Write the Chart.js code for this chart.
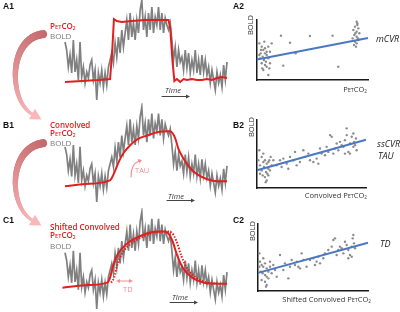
<!DOCTYPE html>
<html>
<head>
<meta charset="utf-8">
<script src="https://cdn.jsdelivr.net/npm/chart.js@4"></script>
<style>
body{margin:0;background:#fff;width:400px;height:312px;overflow:hidden;position:relative;font-family:"Open Sans",sans-serif}
canvas{position:absolute}
.t{position:absolute;white-space:nowrap;line-height:1;font-size:8px}
.lab{font-family:"Liberation Sans",Arial,sans-serif;font-weight:bold;font-size:8.5px;color:#111}
.red{color:#e0201f;font-weight:600}
.grey{color:#7a7a7a}
.ax{color:#333;font-size:7.5px}
.it{font-style:italic;color:#222;font-size:9px}
.tm{font-style:italic;color:#333;font-size:7.5px}
.pk{color:#f28f96;font-size:7.5px}
.s{font-size:0.72em}
sub{font-size:0.62em;vertical-align:-0.25em;line-height:0}
.rot{transform:translate(-50%,-50%) rotate(-90deg)}
</style>
</head>
<body>
<canvas id="deco" width="400" height="312" style="left:0;top:0"></canvas>
<canvas id="tsA" width="170" height="108" style="left:61px;top:-4px"></canvas>
<canvas id="tsB" width="170" height="103" style="left:61px;top:103px"></canvas>
<canvas id="tsC" width="170" height="105" style="left:61px;top:208px"></canvas>
<canvas id="scA" width="119" height="68" style="left:253px;top:16px"></canvas>
<canvas id="scB" width="117" height="76" style="left:253px;top:116px"></canvas>
<canvas id="scC" width="118" height="75" style="left:254px;top:220px"></canvas>

<div class="t lab" style="left:3px;top:2px">A1</div>
<div class="t lab" style="left:3px;top:120.5px">B1</div>
<div class="t lab" style="left:3px;top:215.5px">C1</div>
<div class="t lab" style="left:233px;top:2px">A2</div>
<div class="t lab" style="left:233px;top:120.5px">B2</div>
<div class="t lab" style="left:233px;top:215.5px">C2</div>

<div class="t red" style="left:50px;top:22px">P<span class="s">ET</span>CO<sub>2</sub></div>
<div class="t grey" style="left:50px;top:31.5px">BOLD</div>
<div class="t red" style="left:50px;top:120.5px">Convolved</div>
<div class="t red" style="left:50px;top:128.5px">P<span class="s">ET</span>CO<sub>2</sub></div>
<div class="t grey" style="left:50px;top:138.5px">BOLD</div>
<div class="t red" style="left:50px;top:223px">Shifted Convolved</div>
<div class="t red" style="left:50px;top:231px">P<span class="s">ET</span>CO<sub>2</sub></div>
<div class="t grey" style="left:50px;top:241.5px">BOLD</div>

<div class="t tm" style="left:165px;top:87px">Time</div>
<div class="t tm" style="left:168px;top:192.5px">Time</div>
<div class="t tm" style="left:172px;top:294px">Time</div>
<div class="t pk" style="left:135px;top:167px">TAU</div>
<div class="t pk" style="left:123px;top:286px">TD</div>

<div class="t ax rot" style="left:251px;top:25px">BOLD</div>
<div class="t ax rot" style="left:252px;top:127px">BOLD</div>
<div class="t ax rot" style="left:253px;top:231px">BOLD</div>
<div class="t ax" style="right:33px;top:86px">P<span class="s">ET</span>CO<sub>2</sub></div>
<div class="t ax" style="right:33px;top:192px">Convolved P<span class="s">ET</span>CO<sub>2</sub></div>
<div class="t ax" style="right:29px;top:296px">Shifted Convolved P<span class="s">ET</span>CO<sub>2</sub></div>

<div class="t it" style="left:376px;top:34px">mCVR</div>
<div class="t it" style="left:377px;top:139px">ssCVR</div>
<div class="t it" style="left:378px;top:151px">TAU</div>
<div class="t it" style="left:380px;top:239px">TD</div>

<script>
// BOLD signal, one sample per time step (same trace in all three rows)
const boldValues = [
  58,50,33,45,27,60,28,40,20,58,
  23,33,17,28,22,35,40,20,30,0,
  27,17,30,13,27,15,33,40,47,37,
  57,43,63,47,70,53,67,80,60,87,
  63,77,60,80,67,90,100,70,83,63,
  87,70,93,67,83,75,93,70,87,67,
  82,75,70,77,60,40,53,33,50,38,
  43,30,50,32,47,27,40,30,50,27,
  40,25,45,28,40,25,33,17,30,20,
  10,28,17,25,13,35,20,38
]

// PetCO2 block (row A)
const petTime = [0,10,20,27,28.3,29.3,31,34,40,48,55,62,63,64.3,65.5,67,69,71,73,76,79,82,85,88,91,94,97]
const petVals = [18,19,20,21,50,81,79,78,79,80,80,80,72,40,19,21,18,21,20,21,20,20,21,20,22,23,22]

// convolved PetCO2 (row B)
const convTime = [0,12,27,28.8,31.8,34.8,39,43.2,49.2,55.2,61.2,63,66,67.8,70.8,75,79.2,85.2,91.2,97]
const convVals = [16.5,19,22.8,28,40.7,51,59.7,66,70,73.4,74.4,74.4,67,56.5,46,35.5,29,24,21.8,21.8]

// shifted convolved (solid) and unshifted (dotted), row C
const shiftTime = [-1.5,12,25.2,27,28.8,31.8,37.2,43.2,51,58.8,61.2,64.2,67.2,70.8,76.2,82.8,88,97]
const shiftVals = [22,24.5,27.2,32.4,44.8,57.2,67.5,73.7,78.9,79.9,79,70.6,55.1,41.7,32.4,27.2,26.2,26]
const dotTime = [27.6,29.4,31.2,34.2,39.6,45.6,53.4,61.2,63.6,66.6,69.6,73.2,78.6,85.2,91]
const dotVals = [27.2,32.4,44.8,57.2,67.5,73.7,78.9,79.9,79,70.6,55.1,41.7,32.4,27.2,26.2]

// scatter A2: PetCO2 vs BOLD
const a2X = [2.1,4.2,5.7,7.2,3.3,5.1,8.7,6.3,10.2,4.2,7.2,8.7,5.7,11.7,10.2,2.7,8.1,3.6,11.7,6.6,13.2,10.2,4.8,8.7,2.1,11.1,7.2,
  21.6,29.7,47.7,68.1,34.8,23.7,73.2,
  89.8,90.4,88.3,91.3,86.8,89.8,92.2,87.7,89.8,86.2,91.3,88.3,89.8,87.4,89.2,90.4,88.6,91]
const a2Y = [61.1,55.6,50,52.8,44.4,38.9,41.7,33.3,36.1,27.8,25,22.2,16.7,27.8,8.3,36.1,30.6,50,47.2,63.9,61.1,55.6,19.4,47.2,41.7,19.4,44.4,
  73.9,62.2,73.3,73.9,44.4,23.9,22.2,
  97,94.4,88.9,86.1,83.3,80.6,77.8,75,72.2,69.4,66.7,63.9,61.1,58.3,55.6,91.7,77.8,69.4]
const a2FitX = [0,100]
const a2FitY = [34,70]

// scatter B2: convolved PetCO2 vs BOLD
const b2X = [2.1,1.2,2.8,4.3,5.8,7.3,8.9,10.4,6.4,8.3,9.5,5.2,7.3,8.9,10.4,11.9,4.3,2.8,11.3,13.5,15,12.5,5.8,10.4,8,
  18,21.1,22.6,24.2,27.2,28.7,30.3,33.3,34.9,36.4,39.4,42.5,44,47.1,48.6,51.7,54.7,56.3,57.8,59.3,62.4,63.9,65.4,67,68.5,
  70,71.6,73.1,74.6,76.1,77.7,79.2,80.7,82.3,83.8,85.3,86.9,88.4,89,89.9,90.8,91.4,85.3,82.3,88.4,80.7]
const b2Y = [55.6,40.7,33.3,45.7,38.3,40.7,35.8,38.3,30.9,23.5,21,18.5,16,11.1,18.5,25.9,25.9,21,40.7,33.3,40.7,45.7,50.6,28.4,8.6,
  33.3,40.7,30.9,43.2,35.8,28.4,45.7,40.7,53.1,33.3,38.3,55.6,45.7,50.6,40.7,38.3,43.2,35.8,58,50.6,48.1,60.5,53.1,77.8,75.3,
  50.6,58,65.4,55.6,67.9,63,60.5,70.4,87.7,53.1,65.4,75.3,80.2,67.9,63,72.8,55.6,50.6,77.8,60.5,50.6]
const b2FitX = [0,100]
const b2FitY = [26,71]

// scatter C2: shifted convolved PetCO2 vs BOLD
const c2X = [1.2,1.8,3.3,4.8,6.4,7.9,2.4,4.2,6.4,7.9,9.4,10.9,3.3,6.4,7.9,9.4,12.4,13.9,15.5,17,1.2,4.8,10.9,7.3,
  20,23,24.5,27.6,29.1,30.6,33.6,35.2,36.7,38.2,39.7,41.2,44.2,47.3,50.3,51.8,53.3,54.8,56.4,59.4,60.9,63.9,67,68.5,70,
  71.5,73,74.5,76.1,77.6,79.1,80.6,82.1,83.6,85.2,86.1,86.7,87.3,88.2,82.1,85.2]
const c2Y = [56.2,43.8,38.8,36.3,41.3,33.8,28.9,26.4,23.9,21.4,28.9,36.3,16.4,13.9,9,18.9,26.4,38.8,31.3,21.4,36.3,48.8,43.8,6.5,
  53.7,31.3,41.3,18.9,36.3,46.3,38.8,43.8,36.3,33.8,56.2,46.3,36.3,46.3,48.8,38.8,43.8,51.2,41.3,48.8,56.2,61.2,66.2,76.1,78.6,
  53.7,61.2,66.2,63.7,56.2,73.6,68.7,61.2,53.7,66.2,78.6,83.6,71.1,63.7,48.8,51.2]
const c2FitX = [0,100]
const c2FitY = [27,72]

const RED = '#e0201f'
const GREY = '#808080'
const BLUE = '#4a78c2'

function pts(xs, ys) {
  return xs.map((x, i) => ({ x: x, y: ys[i] }))
}

function seriesChart(id, reds) {
  const datasets = reds.map((r) => ({
    data: pts(r.t, r.v),
    borderColor: RED,
    borderWidth: 2,
    borderDash: r.dash || [],
    cubicInterpolationMode: r.smooth ? 'monotone' : 'default',
    tension: 0,
    pointRadius: 0,
    clip: false,
  }))
  datasets.push({
    data: boldValues.map((v, i) => ({ x: i, y: v })),
    borderColor: GREY,
    borderWidth: 1.7,
    pointRadius: 0,
    clip: false,
  })
  return new Chart(document.getElementById(id), {
    type: 'line',
    data: { datasets },
    options: {
      responsive: false,
      animation: false,
      devicePixelRatio: 1,
      layout: { padding: 4 },
      plugins: { legend: { display: false }, tooltip: { enabled: false } },
      scales: {
        x: { type: 'linear', display: false, min: 0, max: 97 },
        y: { display: false, min: 0, max: 100 },
      },
    },
  })
}

function scatterChart(id, xs, ys, fx, fy) {
  const axis = {
    min: 0,
    max: 100,
    grid: { display: false, drawTicks: false },
    ticks: { display: false },
    border: { display: true, color: '#1a1a1a', width: 1.5 },
  }
  return new Chart(document.getElementById(id), {
    type: 'scatter',
    data: {
      datasets: [
        { data: pts(fx, fy), showLine: true, borderColor: BLUE, borderWidth: 2, pointRadius: 0, clip: false },
        { data: pts(xs, ys), backgroundColor: '#8c8c8c', pointRadius: 1.2, pointBorderWidth: 0, clip: false },
      ],
    },
    options: {
      responsive: false,
      animation: false,
      devicePixelRatio: 1,
      layout: { padding: 4 },
      plugins: { legend: { display: false }, tooltip: { enabled: false } },
      scales: { x: axis, y: axis },
    },
  })
}

seriesChart('tsA', [{ t: petTime, v: petVals }])
seriesChart('tsB', [{ t: convTime, v: convVals, smooth: true }])
seriesChart('tsC', [
  { t: shiftTime, v: shiftVals, smooth: true },
  { t: dotTime, v: dotVals, smooth: true, dash: [1.5, 1.5] },
])
scatterChart('scA', a2X, a2Y, a2FitX, a2FitY)
scatterChart('scB', b2X, b2Y, b2FitX, b2FitY)
scatterChart('scC', c2X, c2Y, c2FitX, c2FitY)

// decorations: curved arrows between rows, time arrows, TAU / TD markers
const g = document.getElementById('deco').getContext('2d')

function mix(a, b, t) {
  return 'rgb(' + a.map((c, i) => Math.round(c + (b[i] - c) * t)).join(',') + ')'
}

function bigArrow(p0, p1, p2, p3) {
  const c0 = [196, 104, 108], c1 = [248, 184, 186]
  const n = 60
  const at = (t) => {
    const u = 1 - t
    return [
      u * u * u * p0[0] + 3 * u * u * t * p1[0] + 3 * u * t * t * p2[0] + t * t * t * p3[0],
      u * u * u * p0[1] + 3 * u * u * t * p1[1] + 3 * u * t * t * p2[1] + t * t * t * p3[1],
    ]
  }
  for (let i = 0; i < n; i++) {
    const a = at(i / n), b = at((i + 1) / n)
    g.lineCap = i === 0 ? 'butt' : 'round'
    g.strokeStyle = mix(c0, c1, i / n)
    g.lineWidth = 8 - 5 * (i / n)
    g.beginPath()
    g.moveTo(a[0], a[1])
    g.lineTo(b[0], b[1])
    g.stroke()
  }
  const dx = p3[0] - p2[0], dy = p3[1] - p2[1]
  const len = Math.hypot(dx, dy)
  const ux = dx / len, uy = dy / len
  g.fillStyle = mix(c0, c1, 1)
  g.beginPath()
  g.moveTo(p3[0] + ux * 11, p3[1] + uy * 11)
  g.lineTo(p3[0] - uy * 6, p3[1] + ux * 6)
  g.lineTo(p3[0] + uy * 6, p3[1] - ux * 6)
  g.closePath()
  g.fill()
}

bigArrow([45, 34], [8, 36], [8, 100], [32, 114])
bigArrow([45, 143], [8, 146], [8, 206], [32, 220])

function timeArrow(x0, x1, y) {
  g.strokeStyle = '#444'
  g.fillStyle = '#444'
  g.lineWidth = 1
  g.beginPath()
  g.moveTo(x0, y)
  g.lineTo(x1 - 3, y)
  g.stroke()
  g.beginPath()
  g.moveTo(x1, y)
  g.lineTo(x1 - 4, y - 2)
  g.lineTo(x1 - 4, y + 2)
  g.closePath()
  g.fill()
}
timeArrow(162, 190, 96.5)
timeArrow(167, 195, 200.5)
timeArrow(170, 198, 302.5)

// TAU curved arrow
g.strokeStyle = '#f28f96'
g.fillStyle = '#f28f96'
g.lineWidth = 1.2
g.beginPath()
g.moveTo(131, 177)
g.quadraticCurveTo(131, 164, 139, 161)
g.stroke()
g.beginPath()
g.moveTo(142, 160)
g.lineTo(137.5, 159)
g.lineTo(139.5, 163.5)
g.closePath()
g.fill()

// TD double arrow
g.beginPath()
g.moveTo(119, 281)
g.lineTo(130, 281)
g.stroke()
g.beginPath()
g.moveTo(116, 281)
g.lineTo(120, 279)
g.lineTo(120, 283)
g.closePath()
g.fill()
g.beginPath()
g.moveTo(133, 281)
g.lineTo(129, 279)
g.lineTo(129, 283)
g.closePath()
g.fill()
</script>
</body>
</html>
